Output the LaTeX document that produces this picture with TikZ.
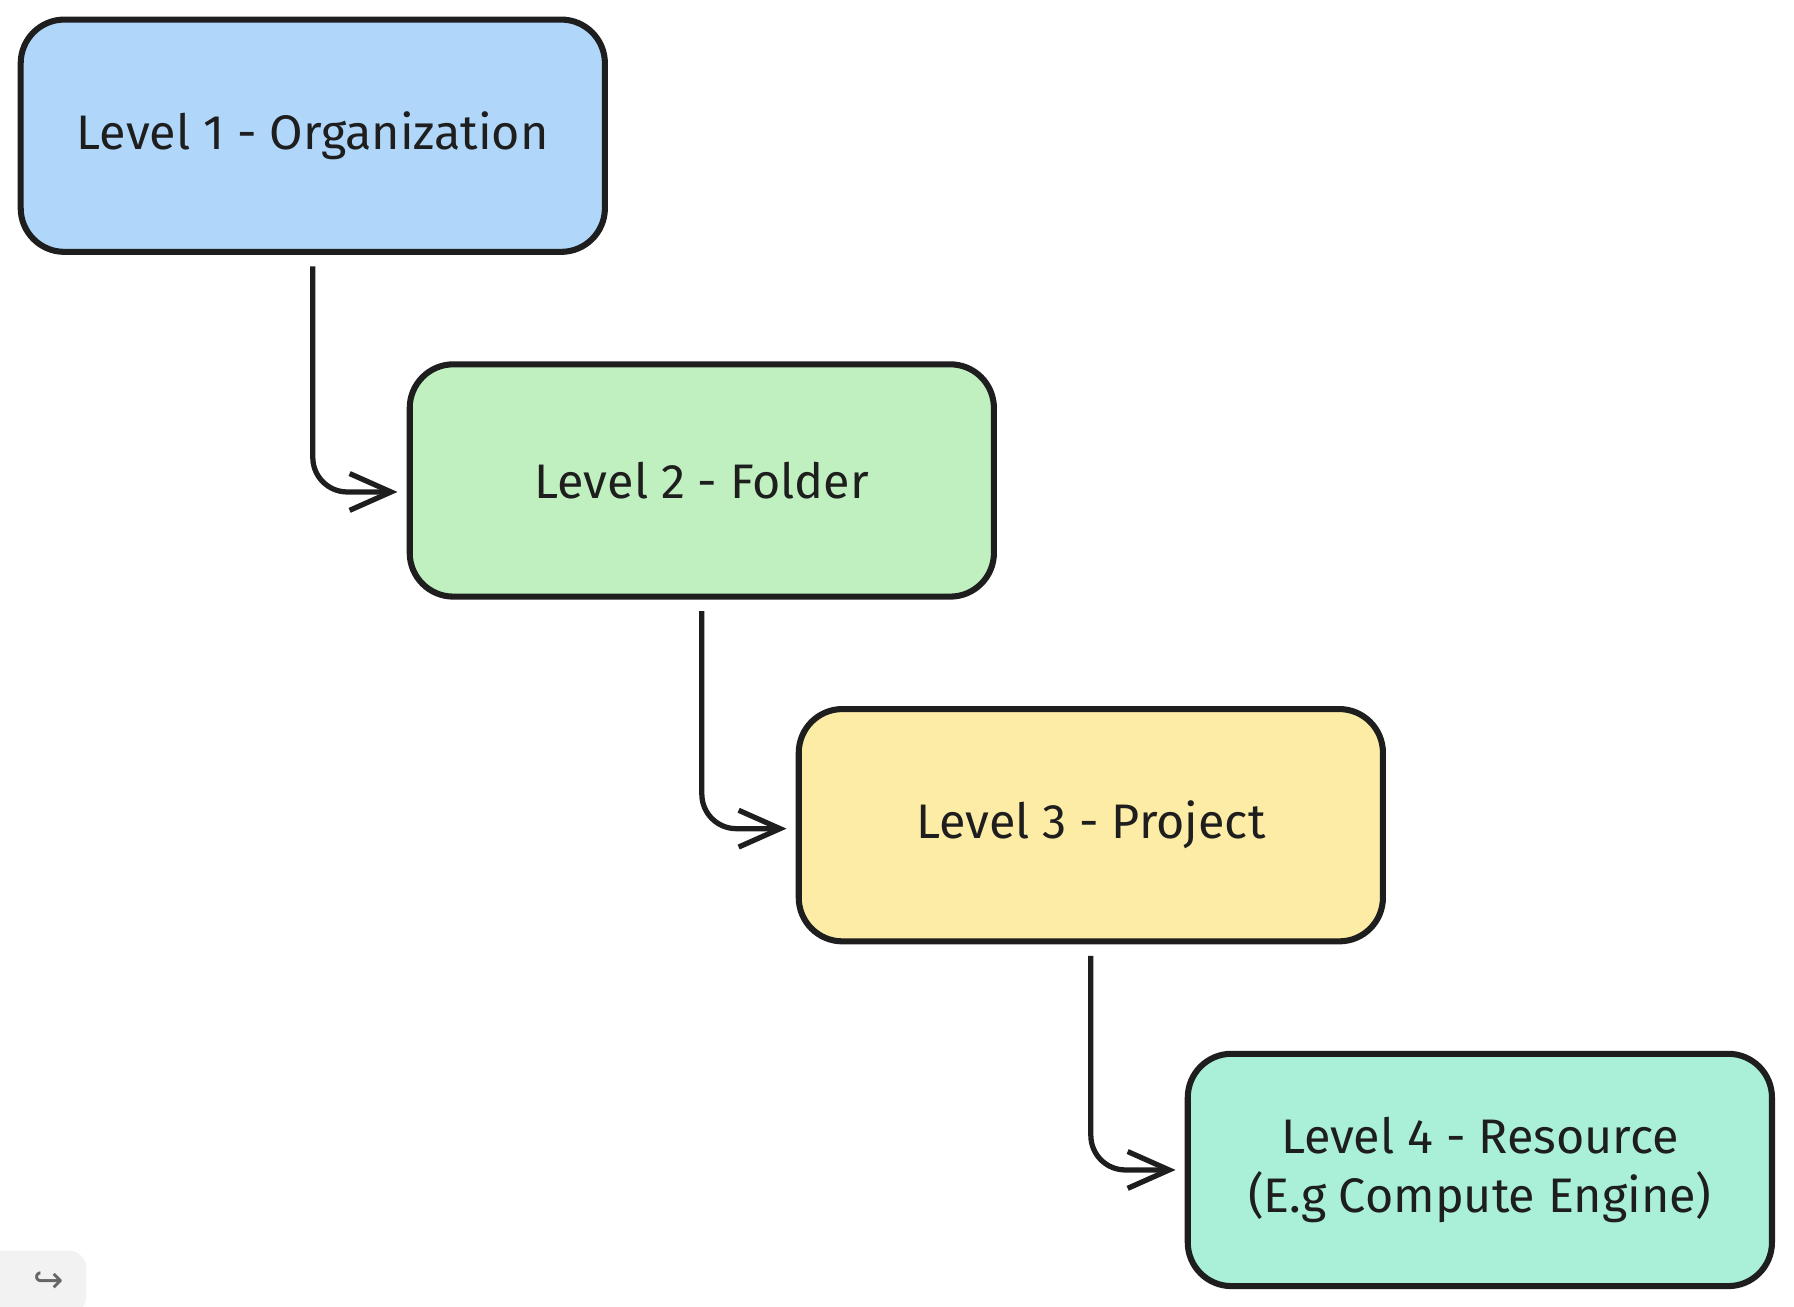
\documentclass[tikz,border=0pt]{standalone}
\usepackage{fontspec}
\setmainfont{Fira Sans}
\newfontfamily\symfont{DejaVu Sans}
\usepackage{tikz}
\usetikzlibrary{positioning, arrows.meta}

\definecolor{orgblue}{RGB}{176,215,250}
\definecolor{foldergreen}{RGB}{192,240,192}
\definecolor{projyellow}{RGB}{252,236,166}
\definecolor{restea}{RGB}{170,240,216}
\definecolor{inkblack}{RGB}{30,30,30}

\begin{document}
\begin{tikzpicture}[node distance=0.925cm and -1.75cm, font=\fontsize{12}{14.5}\selectfont]
        % Styles
        \tikzstyle{level} = [rectangle, draw=inkblack, line width=1.5pt,
            minimum width=5.08cm, minimum height=2.02cm, text centered,
            align=center, rounded corners=0.38cm, text=inkblack]
        \tikzstyle{line} = [draw=inkblack, line width=1.3pt, rounded corners=0.3cm,
            -{Straight Barb[length=0.36cm, width=0.32cm]}, shorten >=0.08cm]

        % Frame
        \useasboundingbox (0,0) rectangle (15.6,-11.36);

        % Nodes
        \node [level, fill=orgblue] (org) at (2.72,-1.18) {Level 1 - Organization};
        \node [level, fill=foldergreen, below right=of org] (folder) {Level 2 - Folder};
        \node [level, fill=projyellow, below right=of folder] (project) {Level 3 - Project};
        \node [level, fill=restea, below right=of project] (resource)
            {Level 4 - Resource\\(E.g Compute Engine)};

        % Connections
        \path [line] ([yshift=-0.1cm]org.south) |- ([yshift=-0.1cm]folder.west);
        \path [line] ([yshift=-0.1cm]folder.south) |- ([yshift=-0.03cm]project.west);
        \path [line] ([yshift=-0.1cm]project.south) |- (resource.west);

        % Corner button
        \node [rectangle, fill=black!5, rounded corners=0.15cm, minimum width=0.9cm,
            minimum height=0.55cm, text=black!60] (redo) at (0.3,-11.15)
            {\hspace{0.25cm}\symfont\small ↪};
\end{tikzpicture}
\end{document}
